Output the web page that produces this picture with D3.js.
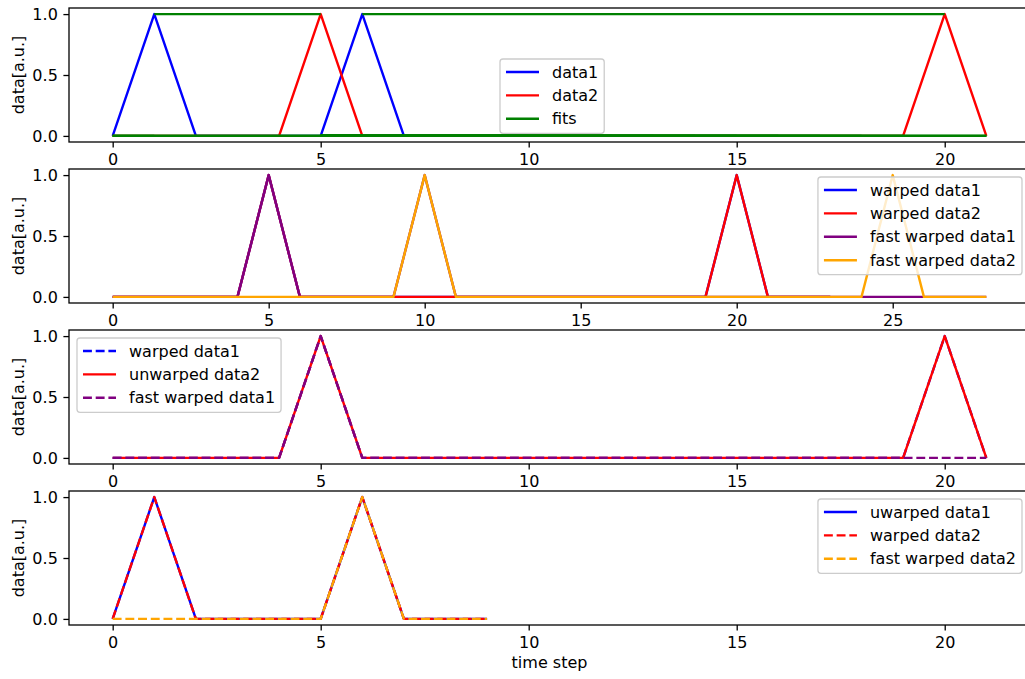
<!DOCTYPE html>
<html>
<head>
<meta charset="utf-8">
<script src="https://cdn.jsdelivr.net/npm/d3@7"></script>
<style>
  body { margin: 0; background: #fff; }
  text { font-family: "DejaVu Sans", sans-serif; fill: #000; }
</style>
</head>
<body>
<div id="chart"></div>
<script>
// series
var data1 = [0, 1, 0, 0, 0, 0, 1, 0, 0, 0];
var data2 = [0, 0, 0, 0, 0, 1, 0, 0, 0, 0, 0, 0, 0, 0, 0, 0, 0, 0, 0, 0, 1, 0];
// fits: data1 index -> data2 index
var fitFrom = [0, 0, 0, 0, 0, 1, 2, 3, 4, 5, 5, 5, 5, 5, 5, 5, 5, 5, 5, 5, 5, 5, 5, 6, 7, 8, 9];
var fitTo   = [0, 1, 2, 3, 4, 5, 6, 6, 6, 6, 7, 8, 9, 10, 11, 12, 13, 14, 15, 16, 17, 18, 19, 20, 21, 21, 21];

var warped1 = [0, 0, 0, 0, 0, 1, 0, 0, 0, 0, 0, 0, 0, 0, 0, 0, 0, 0, 0, 0, 1, 0, 0, 0];
var warped2 = [0, 0, 0, 0, 0, 1, 0, 0, 0, 0, 0, 0, 0, 0, 0, 0, 0, 0, 0, 0, 1, 0, 0, 0];
var fastWarped1 = [0, 0, 0, 0, 0, 1, 0, 0, 0, 0, 1, 0, 0, 0, 0, 0, 0, 0, 0, 0, 0, 0, 0, 0, 0, 0, 0, 0, 0];
var fastWarped2 = [0, 0, 0, 0, 0, 0, 0, 0, 0, 0, 1, 0, 0, 0, 0, 0, 0, 0, 0, 0, 0, 0, 0, 0, 0, 1, 0, 0, 0];

var warped1Long = [0, 0, 0, 0, 0, 1, 0, 0, 0, 0, 0, 0, 0, 0, 0, 0, 0, 0, 0, 0, 1, 0];
var fastWarped1Long = [0, 0, 0, 0, 0, 1, 0, 0, 0, 0, 0, 0, 0, 0, 0, 0, 0, 0, 0, 0, 0, 0];

var warped2Short = [0, 1, 0, 0, 0, 0, 1, 0, 0, 0];
var fastWarped2Short = [0, 0, 0, 0, 0, 0, 1, 0, 0, 0];

var xTicksA = [0, 5, 10, 15, 20];
var xTicksB = [0, 5, 10, 15, 20, 25];
var yTicks = [0, 0.5, 1];

var width = 1025, height = 679;
var left = 69, right = 1030;
var panelTop = [8, 169, 330, 491];
var panelH = 134;
var fontSize = 16;
var lw = 2.4;
var dash = "8.9,3.8";

var svg = d3.select("#chart").append("svg")
    .attr("width", width)
    .attr("height", height);

function pts(arr) {
    return arr.map(function (v, i) { return [i, v]; });
}

var panels = [
    {
        xMax: 21, ticks: xTicksA,
        series: [
            { label: "data1", color: "#0000ff", values: pts(data1) },
            { label: "data2", color: "#ff0000", values: pts(data2) }
        ],
        fits: true,
        legend: { x: 500, y: 59, labels: ["data1", "data2", "fits"], colors: ["#0000ff", "#ff0000", "#008000"], dashed: [false, false, false] }
    },
    {
        xMax: 28, ticks: xTicksB,
        series: [
            { color: "#0000ff", values: pts(warped1) },
            { color: "#ff0000", values: pts(warped2) },
            { color: "#800080", values: pts(fastWarped1) },
            { color: "#ffa500", values: pts(fastWarped2) }
        ],
        legend: { anchor: "right", y: 177, labels: ["warped data1", "warped data2", "fast warped data1", "fast warped data2"],
                  colors: ["#0000ff", "#ff0000", "#800080", "#ffa500"], dashed: [false, false, false, false] }
    },
    {
        xMax: 21, ticks: xTicksA,
        series: [
            { color: "#0000ff", values: pts(warped1Long), dashed: true },
            { color: "#ff0000", values: pts(data2) },
            { color: "#800080", values: pts(fastWarped1Long), dashed: true }
        ],
        legend: { x: 77, y: 338, labels: ["warped data1", "unwarped data2", "fast warped data1"],
                  colors: ["#0000ff", "#ff0000", "#800080"], dashed: [true, false, true] }
    },
    {
        xMax: 21, ticks: xTicksA,
        series: [
            { color: "#0000ff", values: pts(data1) },
            { color: "#ff0000", values: pts(warped2Short), dashed: true },
            { color: "#ffa500", values: pts(fastWarped2Short), dashed: true }
        ],
        legend: { anchor: "right", y: 499, labels: ["uwarped data1", "warped data2", "fast warped data2"],
                  colors: ["#0000ff", "#ff0000", "#ffa500"], dashed: [false, true, true] }
    }
];

panels.forEach(function (p, k) {
    var top = panelTop[k];
    var x = d3.scaleLinear().domain([-0.05 * p.xMax, 1.05 * p.xMax]).range([left, right]);
    var y = d3.scaleLinear().domain([-0.05, 1.05]).range([top + panelH, top]);

    var g = svg.append("g");

    var clipId = "clip" + k;
    g.append("clipPath").attr("id", clipId)
        .append("rect").attr("x", left).attr("y", top).attr("width", right - left).attr("height", panelH);

    var plot = g.append("g").attr("clip-path", "url(#" + clipId + ")");
    var line = d3.line().x(function (d) { return x(d[0]); }).y(function (d) { return y(d[1]); });

    p.series.forEach(function (s) {
        plot.append("path")
            .attr("d", line(s.values))
            .attr("fill", "none")
            .attr("stroke", s.color)
            .attr("stroke-width", lw)
            .attr("stroke-linejoin", "round")
            .attr("stroke-dasharray", s.dashed ? dash : null);
    });

    if (p.fits) {
        fitFrom.forEach(function (i, n) {
            var j = fitTo[n];
            plot.append("path")
                .attr("d", line([[i, data1[i]], [j, data2[j]]]))
                .attr("fill", "none")
                .attr("stroke", "#008000")
                .attr("stroke-width", lw);
        });
    }

    // axes
    var xAxis = d3.axisBottom(x).tickValues(p.ticks).tickFormat(d3.format("d"))
        .tickSize(5.6).tickPadding(5.6).tickSizeOuter(0);
    var yAxis = d3.axisLeft(y).tickValues(yTicks).tickFormat(d3.format(".1f"))
        .tickSize(5.6).tickPadding(5.6).tickSizeOuter(0);

    var gx = g.append("g").attr("transform", "translate(0," + (top + panelH) + ")").call(xAxis);
    var gy = g.append("g").attr("transform", "translate(" + left + ",0)").call(yAxis);
    [gx, gy].forEach(function (a) {
        a.select(".domain").remove();
        a.selectAll("line").attr("stroke", "#000").attr("stroke-width", 1.3);
        a.selectAll("text").attr("font-size", fontSize).attr("font-family", "DejaVu Sans").attr("fill", "#000");
    });

    g.append("rect")
        .attr("x", left).attr("y", top)
        .attr("width", right - left).attr("height", panelH)
        .attr("fill", "none").attr("stroke", "#000").attr("stroke-width", 1.3);

    g.append("text")
        .attr("transform", "translate(18," + (top + panelH / 2) + ") rotate(-90)")
        .attr("text-anchor", "middle")
        .attr("dy", "0.35em")
        .attr("font-size", fontSize)
        .text("data[a.u.]");

    // legend
    var L = p.legend;
    var lg = g.append("g");
    var frame = lg.append("rect");
    var rowGap = 23.4;
    var textW = 0;
    var texts = [];
    L.labels.forEach(function (lab, i) {
        var t = lg.append("text").attr("font-size", fontSize).attr("dy", "0.35em").text(lab);
        texts.push(t);
        textW = Math.max(textW, t.node().getComputedTextLength());
    });
    var boxW = 6 + 33 + 13 + textW + 6;
    var boxH = (L.labels.length - 1) * rowGap + 27.5;
    var bx = L.anchor === "right" ? (right - 8 - boxW) : L.x;
    var by = L.y;
    frame.attr("x", bx).attr("y", by).attr("width", boxW).attr("height", boxH)
        .attr("rx", 3).attr("fill", "#fff").attr("fill-opacity", 0.8)
        .attr("stroke", "#cccccc").attr("stroke-width", 1.3);
    L.labels.forEach(function (lab, i) {
        var cy = by + 13 + i * rowGap;
        lg.append("line")
            .attr("x1", bx + 6).attr("x2", bx + 39)
            .attr("y1", cy).attr("y2", cy)
            .attr("stroke", L.colors[i]).attr("stroke-width", lw)
            .attr("stroke-dasharray", L.dashed[i] ? dash : null);
        texts[i].attr("x", bx + 52).attr("y", cy);
    });
});

svg.append("text")
    .attr("x", (left + right) / 2)
    .attr("y", 668)
    .attr("text-anchor", "middle")
    .attr("font-size", fontSize)
    .text("time step");
</script>
</body>
</html>
